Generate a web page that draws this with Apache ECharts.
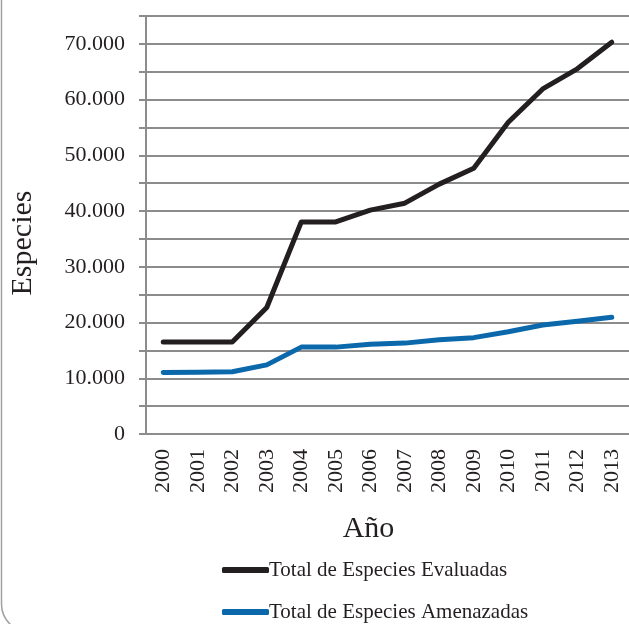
<!DOCTYPE html>
<html>
<head>
<meta charset="utf-8">
<script src="https://cdn.jsdelivr.net/npm/echarts@6/dist/echarts.min.js"></script>
<style>
  html, body { margin: 0; padding: 0; background: #ffffff; }
  #chart { width: 629px; height: 624px; }
</style>
</head>
<body>
<div id="chart"></div>
<script>
// Years on the horizontal axis
const years = ['2000', '2001', '2002', '2003', '2004', '2005', '2006',
               '2007', '2008', '2009', '2010', '2011', '2012', '2013'];

// Total species evaluated per year
const evaluadas = [16507, 16507, 16507, 22700, 38047, 38047, 40177,
                   41415, 44838, 47677, 55926, 61914, 65518, 70294];

// Total threatened species per year
const amenazadas = [11046, 11100, 11167, 12400, 15589, 15589, 16118,
                    16306, 16928, 17291, 18351, 19570, 20219, 20934];

const seriesNames = ['Total de Especies Evaluadas', 'Total de Especies Amenazadas'];

const FONT = '"Liberation Serif", "DejaVu Serif", serif';
const TEXT = '#231f20';
const GRID_GRAY = '#8c8c8c';
const COLOR_EVAL = '#231f20';
const COLOR_AMEN = '#0a68ab';

// Thousands separator with a dot: 70000 -> "70.000"
function fmtThousands(v) {
  return String(v).replace(/\B(?=(\d{3})+(?!\d))/g, '.');
}

// One legend entry per row, stacked below the axis title
function legendRow(name, top) {
  return {
    orient: 'horizontal',
    left: 217,
    top: top,
    itemWidth: 47,
    itemHeight: 6,
    icon: 'roundRect',
    data: [name],
    textStyle: { fontFamily: FONT, fontSize: 21, color: TEXT, lineHeight: 24, padding: [0, 0, 0, -5] }
  };
}

const chart = echarts.init(document.getElementById('chart'), null, { renderer: 'canvas' });

chart.setOption({
  animation: false,
  backgroundColor: '#ffffff',
  grid: { left: 145.5, right: 0, top: 16, bottom: 190, containLabel: false },
  xAxis: {
    type: 'category',
    data: years,
    boundaryGap: true,
    name: 'Año',
    nameLocation: 'middle',
    nameGap: 80,
    nameTextStyle: { fontFamily: FONT, fontSize: 30, color: TEXT, padding: [0, 38, 0, 0] },
    axisLine: { show: true, lineStyle: { color: GRID_GRAY, width: 2 } },
    axisTick: { show: false },
    axisLabel: { rotate: 90, margin: 15, fontFamily: FONT, fontSize: 22, color: TEXT },
    splitLine: { show: false }
  },
  yAxis: {
    type: 'value',
    min: 0,
    max: 75000,
    interval: 5000,
    name: 'Especies',
    nameLocation: 'middle',
    nameGap: 108,
    nameRotate: 90,
    nameTextStyle: { fontFamily: FONT, fontSize: 30, color: TEXT, padding: [0, 36, 0, 0] },
    axisLine: { show: true, lineStyle: { color: GRID_GRAY, width: 2 } },
    axisTick: { show: true, length: 7, lineStyle: { color: GRID_GRAY, width: 2 } },
    axisLabel: {
      margin: 21,
      fontFamily: FONT,
      fontSize: 22,
      color: TEXT,
      formatter: function (v) { return v % 10000 === 0 ? fmtThousands(v) : ''; }
    },
    splitLine: { show: true, lineStyle: { color: GRID_GRAY, width: 2 } }
  },
  legend: [
    legendRow(seriesNames[0], 553),
    legendRow(seriesNames[1], 595)
  ],
  graphic: [
    {
      type: 'rect',
      silent: true,
      shape: { x: 1.5, y: -40, width: 700, height: 672, r: 28 },
      style: { fill: null, stroke: '#a0a0a0', lineWidth: 1.5 }
    }
  ],
  series: [
    {
      name: seriesNames[0],
      type: 'line',
      data: evaluadas,
      symbol: 'none',
      color: COLOR_EVAL,
      lineStyle: { width: 5, color: COLOR_EVAL, cap: 'round', join: 'round' }
    },
    {
      name: seriesNames[1],
      type: 'line',
      data: amenazadas,
      symbol: 'none',
      color: COLOR_AMEN,
      lineStyle: { width: 5, color: COLOR_AMEN, cap: 'round', join: 'round' }
    }
  ]
});
</script>
</body>
</html>
